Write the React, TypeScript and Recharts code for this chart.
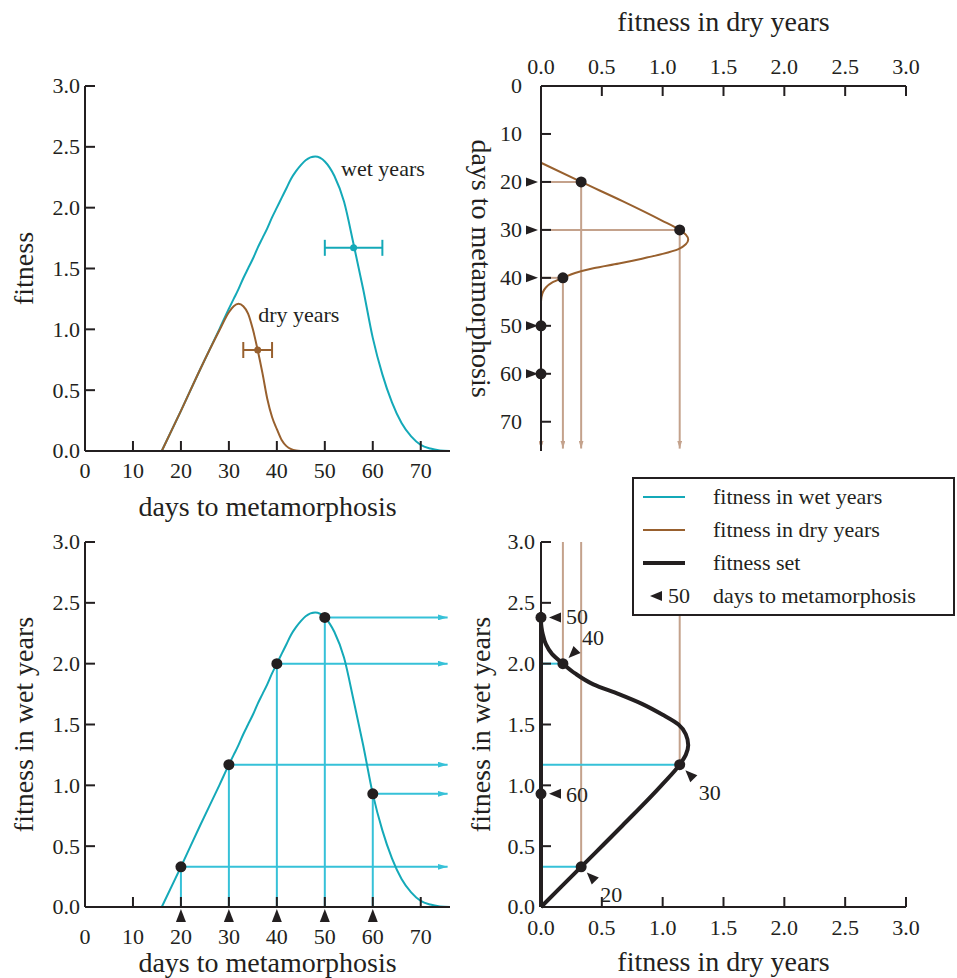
import React from 'react';
import {
  ComposedChart,
  Line,
  Scatter,
  XAxis,
  YAxis,
  ReferenceLine,
  ErrorBar,
  Legend,
} from 'recharts';

const SERIF = '"Liberation Serif", "Times New Roman", serif';
const INK = '#231f20';
const WET = '#14a9b8';
const WET_GUIDE = '#36c1d8';
const DRY = '#98602e';
const DRY_GUIDE = '#c4a28c';

const DAY_MAX = 76.1;
const ARROW_END_DAY = 75.6;

const dayTicks = [0, 10, 20, 30, 40, 50, 60, 70];
const fitnessTicks = [0, 0.5, 1, 1.5, 2, 2.5, 3];
const markedDays = [20, 30, 40, 50, 60];

// curves
const days = [
  16, 20, 24, 28, 30, 31, 32, 33, 34, 35, 36, 37, 38, 39, 40, 41, 42, 43, 44, 45, 46,
  48, 50, 52, 54, 56, 58, 60, 62, 64, 66, 68, 70, 72, 74, 76,
];
const wetFitness = [
  0, 0.33, 0.67, 1.0, 1.17, 1.25, 1.33, 1.42, 1.5, 1.58, 1.67, 1.75, 1.83, 1.92, 2.0, 2.08,
  2.16, 2.24, 2.3, 2.35, 2.39, 2.42, 2.38, 2.26, 2.05, 1.7, 1.33, 0.93, 0.63, 0.4, 0.23,
  0.12, 0.05, 0.02, 0.005, 0,
];
// dry curve ends at day 45 (zero from there on)
const dryFitness = [
  0, 0.33, 0.67, 0.99, 1.14, 1.19, 1.21, 1.19, 1.13, 1.0, 0.83, 0.64, 0.43, 0.28, 0.18, 0.09,
  0.04, 0.015, 0.004, 0,
];

// observed means with spread (top-left panel)
const meanDays = [56, 36];
const meanFitness = [1.67, 0.83];
const meanSpread = [6, 3];

const curveLabels = ['wet years', 'dry years'];
const curveLabelDays = [53.4, 36.1];
const curveLabelFitness = [2.26, 1.06];

const legendLabels = [
  'fitness in wet years',
  'fitness in dry years',
  'fitness set',
  'days to metamorphosis',
];

const curveRows = days.map((day, i) => ({
  day,
  wet: wetFitness[i],
  dry: i < dryFitness.length ? dryFitness[i] : null,
}));
const dryRows = curveRows.filter((r) => r.dry !== null);
const markedRows = markedDays.map((day) => {
  const i = days.indexOf(day);
  return { day, wet: wetFitness[i], dry: i < dryFitness.length ? dryFitness[i] : 0 };
});
const peakIndex = wetFitness.indexOf(Math.max(...wetFitness));
const setRising = curveRows.slice(0, peakIndex + 1).map((r) => ({ dry: r.dry ?? 0, wet: r.wet }));
const setFalling = curveRows.slice(peakIndex).map((r) => ({ dry: r.dry ?? 0, wet: r.wet }));
const wetMean = [{ day: meanDays[0], fitness: meanFitness[0], spread: meanSpread[0] }];
const dryMean = [{ day: meanDays[1], fitness: meanFitness[1], spread: meanSpread[1] }];
const labelRows = curveLabels.map((text, i) => ({
  day: curveLabelDays[i],
  fitness: curveLabelFitness[i],
  text,
}));

const tickText = { fontFamily: SERIF, fontSize: 22, fill: INK };
const titleText = { fontFamily: SERIF, fontSize: 28, fill: INK };
const axisLine = { stroke: INK, strokeWidth: 2 };

const fmtDay = (v: number) => String(v);
const fmtFit = (v: number) => v.toFixed(1);

// ticks are drawn inside (negative tickSize), so x/y below is the axis line itself
const bottomTick = (fmt: (v: number) => string, gap: number, withMarks = false) =>
  (props: any) => {
    const { x, y, payload } = props;
    const v = payload.value;
    return (
      <g>
        {withMarks && markedDays.includes(v) && (
          <path d={`M${x},${y + 2} L${x + 5},${y + 15} L${x - 5},${y + 15} Z`} fill={INK} />
        )}
        <text x={x} y={y + gap} textAnchor="middle" {...tickText}>
          {fmt(v)}
        </text>
      </g>
    );
  };

const topTick = (fmt: (v: number) => string, gap: number) => (props: any) => {
  const { x, y, payload } = props;
  return (
    <text x={x} y={y - gap} textAnchor="middle" {...tickText}>
      {fmt(payload.value)}
    </text>
  );
};

const leftTick = (fmt: (v: number) => string, gap: number, withMarks = false) =>
  (props: any) => {
    const { x, y, payload } = props;
    const v = payload.value;
    return (
      <g>
        {withMarks && markedDays.includes(v) && (
          <path d={`M${x - 3},${y} L${x - 15},${y - 4.5} L${x - 15},${y + 4.5} Z`} fill={INK} />
        )}
        <text x={x - gap} y={y} dy="0.34em" textAnchor="end" {...tickText}>
          {fmt(v)}
        </text>
      </g>
    );
  };

const bottomTitle = (text: string, baseline: number) => (props: any) => {
  const { viewBox } = props;
  return (
    <text x={viewBox.x + viewBox.width / 2} y={viewBox.y + baseline} textAnchor="middle" {...titleText}>
      {text}
    </text>
  );
};

const sideTitle = (text: string, offsetX: number, angle: number) => (props: any) => {
  const { viewBox } = props;
  const cx = viewBox.x + offsetX;
  const cy = viewBox.y + viewBox.height / 2;
  return (
    <text x={cx} y={cy} transform={`rotate(${angle} ${cx} ${cy})`} textAnchor="middle" {...titleText}>
      {text}
    </text>
  );
};

const blackDot = (props: any) => <circle cx={props.cx} cy={props.cy} r={5.5} fill={INK} />;

// where the little day tags sit around each point of the fitness set
const setTagPlacement: Record<number, { angle: number; dx: number; dy: number }> = {
  20: { angle: 45, dx: 19, dy: 35 },
  30: { angle: 45, dx: 19, dy: 35 },
  40: { angle: -45, dx: 19, dy: -19 },
  50: { angle: 0, dx: 25, dy: 7 },
  60: { angle: 0, dx: 25, dy: 8 },
};

const SetMarker = (props: any) => {
  const { cx, cy, payload } = props;
  const p = setTagPlacement[payload.day];
  return (
    <g>
      <circle cx={cx} cy={cy} r={5.5} fill={INK} />
      <path
        d="M8,0 L20,-5 L20,5 Z"
        transform={`translate(${cx},${cy}) rotate(${p.angle})`}
        fill={INK}
      />
      <text x={cx + p.dx} y={cy + p.dy} {...tickText}>
        {payload.day}
      </text>
    </g>
  );
};

function FitnessLegend() {
  const swatches = [
    { color: WET, width: 2 },
    { color: DRY, width: 2 },
    { color: INK, width: 4 },
  ];
  const rowY = [18, 51, 84, 117];
  return (
    <div
      style={{
        width: 323,
        height: 139,
        boxSizing: 'border-box',
        border: `2px solid ${INK}`,
        background: '#fff',
      }}
    >
      <svg width={319} height={135} style={{ display: 'block' }}>
        {swatches.map((s, i) => (
          <line key={i} x1={9} x2={51} y1={rowY[i]} y2={rowY[i]} stroke={s.color} strokeWidth={s.width} />
        ))}
        <path d={`M16,${rowY[3]} L28,${rowY[3] - 5} L28,${rowY[3] + 5} Z`} fill={INK} />
        <text x={34} y={rowY[3] + 7} {...tickText}>
          50
        </text>
        {legendLabels.map((label, i) => (
          <text key={label} x={79} y={rowY[i] + 7} {...tickText}>
            {label}
          </text>
        ))}
      </svg>
    </div>
  );
}

function TimingPanel() {
  return (
    <ComposedChart width={470} height={530} data={curveRows} margin={{ top: 86, right: 20, bottom: 0, left: 0 }}>
      <XAxis
        type="number"
        dataKey="day"
        domain={[0, DAY_MAX]}
        ticks={dayTicks}
        interval={0}
        height={79}
        axisLine={axisLine}
        tickLine={axisLine}
        tickSize={-10}
        tickMargin={10}
        tick={bottomTick(fmtDay, 27)}
        label={bottomTitle('days to metamorphosis', 65)}
      />
      <YAxis
        type="number"
        domain={[0, 3]}
        ticks={fitnessTicks}
        interval={0}
        width={85}
        axisLine={axisLine}
        tickLine={axisLine}
        tickSize={-10}
        tickMargin={10}
        tick={leftTick(fmtFit, 5)}
        label={sideTitle('fitness', 33, -90)}
      />
      <Line dataKey="wet" type="monotone" stroke={WET} strokeWidth={2} dot={false} isAnimationActive={false} />
      <Line dataKey="dry" type="monotone" stroke={DRY} strokeWidth={2} dot={false} isAnimationActive={false} />
      <Scatter
        data={wetMean}
        dataKey="fitness"
        isAnimationActive={false}
        shape={(p: any) => <circle cx={p.cx} cy={p.cy} r={3.5} fill={WET} />}
      >
        <ErrorBar dataKey="spread" direction="x" width={8} stroke={WET} strokeWidth={2} />
      </Scatter>
      <Scatter
        data={dryMean}
        dataKey="fitness"
        isAnimationActive={false}
        shape={(p: any) => <circle cx={p.cx} cy={p.cy} r={3.5} fill={DRY} />}
      >
        <ErrorBar dataKey="spread" direction="x" width={8} stroke={DRY} strokeWidth={2} />
      </Scatter>
      <Scatter
        data={labelRows}
        dataKey="fitness"
        isAnimationActive={false}
        shape={(p: any) => (
          <text x={p.cx} y={p.cy} {...tickText}>
            {p.payload.text}
          </text>
        )}
      />
    </ComposedChart>
  );
}

function DryPanel() {
  return (
    <ComposedChart
      layout="vertical"
      width={487}
      height={470}
      data={dryRows}
      margin={{ top: 0, right: 51, bottom: 19, left: 0 }}
    >
      <defs>
        <marker id="arrowDry" markerWidth={8} markerHeight={5} refX={8} refY={2.5} orient="auto" markerUnits="userSpaceOnUse">
          <path d="M0,0 L8,2.5 L0,5 Z" fill={DRY_GUIDE} />
        </marker>
      </defs>
      {markedRows
        .filter((r) => r.dry > 0)
        .map((r) => (
          <ReferenceLine
            key={`h${r.day}`}
            segment={[{ x: 0, y: r.day }, { x: r.dry, y: r.day }]}
            stroke={DRY_GUIDE}
            strokeWidth={2}
          />
        ))}
      {markedRows.map((r) => (
        <ReferenceLine
          key={`v${r.day}`}
          segment={[{ x: r.dry, y: r.day }, { x: r.dry, y: ARROW_END_DAY }]}
          stroke={DRY_GUIDE}
          strokeOpacity={r.dry > 0 ? 1 : 0}
          strokeWidth={2}
          markerEnd="url(#arrowDry)"
        />
      ))}
      <XAxis
        type="number"
        orientation="top"
        domain={[0, 3]}
        ticks={fitnessTicks}
        interval={0}
        height={86}
        axisLine={axisLine}
        tickLine={axisLine}
        tickSize={-10}
        tickMargin={10}
        tick={topTick(fmtFit, 12.5)}
        label={bottomTitle('fitness in dry years', 31)}
      />
      <YAxis
        type="number"
        dataKey="day"
        domain={[0, DAY_MAX]}
        ticks={dayTicks}
        interval={0}
        width={71}
        axisLine={axisLine}
        tickLine={axisLine}
        tickSize={-10}
        tickMargin={10}
        tick={leftTick(fmtDay, 19, true)}
        label={sideTitle('days to metamorphosis', 2, 90)}
      />
      <Line dataKey="dry" type="monotone" stroke={DRY} strokeWidth={2} dot={false} isAnimationActive={false} />
      <Scatter data={markedRows} dataKey="dry" isAnimationActive={false} shape={blackDot} />
    </ComposedChart>
  );
}

function WetPanel() {
  return (
    <ComposedChart width={470} height={448} data={curveRows} margin={{ top: 12, right: 20, bottom: 0, left: 0 }}>
      <defs>
        <marker id="arrowWet" markerWidth={10} markerHeight={6} refX={10} refY={3} orient="auto" markerUnits="userSpaceOnUse">
          <path d="M0,0 L10,3 L0,6 Z" fill={WET_GUIDE} />
        </marker>
      </defs>
      {markedRows.map((r) => (
        <ReferenceLine
          key={`v${r.day}`}
          segment={[{ x: r.day, y: 0 }, { x: r.day, y: r.wet }]}
          stroke={WET_GUIDE}
          strokeWidth={2}
        />
      ))}
      {markedRows.map((r) => (
        <ReferenceLine
          key={`h${r.day}`}
          segment={[{ x: r.day, y: r.wet }, { x: ARROW_END_DAY, y: r.wet }]}
          stroke={WET_GUIDE}
          strokeWidth={2}
          markerEnd="url(#arrowWet)"
        />
      ))}
      <XAxis
        type="number"
        dataKey="day"
        domain={[0, DAY_MAX]}
        ticks={dayTicks}
        interval={0}
        height={71}
        axisLine={axisLine}
        tickLine={axisLine}
        tickSize={-10}
        tickMargin={10}
        tick={bottomTick(fmtDay, 37, true)}
        label={bottomTitle('days to metamorphosis', 65)}
      />
      <YAxis
        type="number"
        domain={[0, 3]}
        ticks={fitnessTicks}
        interval={0}
        width={85}
        axisLine={axisLine}
        tickLine={axisLine}
        tickSize={-10}
        tickMargin={10}
        tick={leftTick(fmtFit, 5)}
        label={sideTitle('fitness in wet years', 33, -90)}
      />
      <Line dataKey="wet" type="monotone" stroke={WET} strokeWidth={2} dot={false} isAnimationActive={false} />
      <Scatter data={markedRows} dataKey="wet" isAnimationActive={false} shape={blackDot} />
    </ComposedChart>
  );
}

function FitnessSetPanel() {
  const guided = markedRows.filter((r) => r.dry > 0);
  return (
    <ComposedChart width={487} height={508} margin={{ top: 72, right: 51, bottom: 0, left: 0 }}>
      {guided.map((r) => (
        <ReferenceLine
          key={`v${r.day}`}
          segment={[{ x: r.dry, y: 3 }, { x: r.dry, y: r.wet }]}
          stroke={DRY_GUIDE}
          strokeWidth={2}
        />
      ))}
      {guided.map((r) => (
        <ReferenceLine
          key={`h${r.day}`}
          segment={[{ x: 0, y: r.wet }, { x: r.dry, y: r.wet }]}
          stroke={WET_GUIDE}
          strokeWidth={2}
        />
      ))}
      <XAxis
        type="number"
        dataKey="dry"
        domain={[0, 3]}
        ticks={fitnessTicks}
        interval={0}
        height={71}
        axisLine={axisLine}
        tickLine={axisLine}
        tickSize={-10}
        tickMargin={10}
        tick={bottomTick(fmtFit, 28)}
        label={bottomTitle('fitness in dry years', 64)}
      />
      <YAxis
        type="number"
        domain={[0, 3]}
        ticks={fitnessTicks}
        interval={0}
        width={71}
        axisLine={axisLine}
        tickLine={axisLine}
        tickSize={-10}
        tickMargin={10}
        tick={leftTick(fmtFit, 6)}
        label={sideTitle('fitness in wet years', 20, -90)}
      />
      <Line data={setRising} dataKey="wet" type="monotoneY" stroke={INK} strokeWidth={4} dot={false} isAnimationActive={false} />
      <Line data={setFalling} dataKey="wet" type="linear" stroke={INK} strokeWidth={4} dot={false} isAnimationActive={false} />
      <Scatter data={markedRows} dataKey="wet" isAnimationActive={false} shape={SetMarker} />
      <Legend
        layout="vertical"
        verticalAlign="middle"
        align="center"
        content={FitnessLegend}
        wrapperStyle={{ left: 162, top: 7, width: 323, height: 139 }}
      />
    </ComposedChart>
  );
}

export default function App() {
  return (
    <div style={{ position: 'absolute', left: 0, top: 0, width: 957, height: 978, background: '#fff', overflow: 'hidden' }}>
      <style>{'.recharts-surface { overflow: visible; }'}</style>
      <div style={{ position: 'absolute', left: 0, top: 0 }}>
        <TimingPanel />
      </div>
      <div style={{ position: 'absolute', left: 470, top: 0 }}>
        <DryPanel />
      </div>
      <div style={{ position: 'absolute', left: 0, top: 530 }}>
        <WetPanel />
      </div>
      <div style={{ position: 'absolute', left: 470, top: 470 }}>
        <FitnessSetPanel />
      </div>
    </div>
  );
}
